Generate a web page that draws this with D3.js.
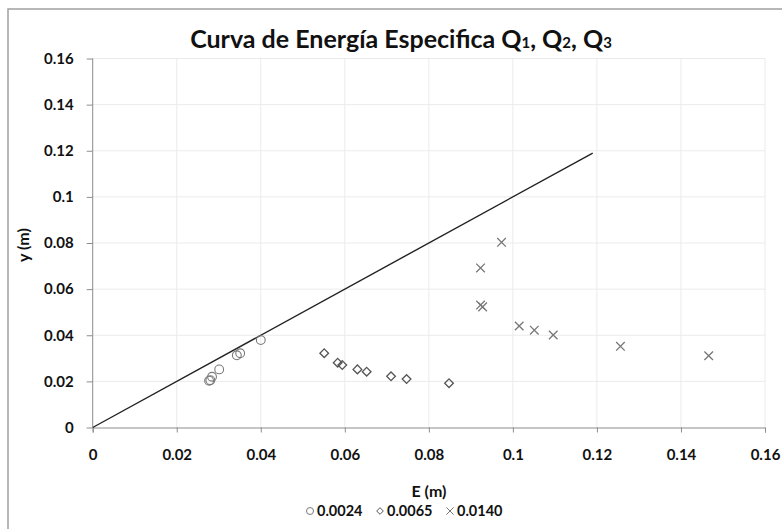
<!DOCTYPE html>
<html lang="es">
<head>
<meta charset="utf-8">
<title>Curva de Energía Especifica</title>
<script src="https://cdn.jsdelivr.net/npm/d3@7"></script>
<style>
  body { margin: 0; background: #fff; }
  text { font-family: Lato, "Open Sans", sans-serif; font-weight: bold; fill: #111; }
  .grid line { stroke: #ebebeb; }
  .axis path, .axis line { stroke: #8c8c8c; }
</style>
</head>
<body>
<script>
// data (E in m, y in m)
var q1E = [0.0277, 0.0280, 0.0284, 0.0301, 0.0343, 0.0351, 0.0400];
var q1Y = [0.0203, 0.0205, 0.0220, 0.0252, 0.0313, 0.0322, 0.0379];
var q2E = [0.0551, 0.0583, 0.0594, 0.0630, 0.0652, 0.0710, 0.0747, 0.0848];
var q2Y = [0.0322, 0.0281, 0.0271, 0.0252, 0.0242, 0.0222, 0.0210, 0.0192];
var q3E = [0.0973, 0.0923, 0.0923, 0.0928, 0.1015, 0.1051, 0.1096, 0.1256, 0.1466];
var q3Y = [0.0803, 0.0692, 0.0531, 0.0523, 0.0440, 0.0422, 0.0401, 0.0352, 0.0311];
var lineE = [0, 0.119];
var lineY = [0, 0.119];
var seriesNames = ["0.0024", "0.0065", "0.0140"];
var ticks = [0, 0.02, 0.04, 0.06, 0.08, 0.1, 0.12, 0.14, 0.16];

(function(){
var w = 782, h = 529;
var pl = 92.7, pr = 765, pt = 58.5, pb = 427.5;

var svg = d3.select("body").append("svg").attr("width", w).attr("height", h);

// outer chart border
svg.append("rect").attr("x", 8).attr("y", 9).attr("width", w + 10).attr("height", h + 10)
  .attr("fill", "none").attr("stroke", "#a0a0a0").attr("stroke-width", 1.5);

var x = d3.scaleLinear().domain([0, 0.16]).range([pl, pr]);
var y = d3.scaleLinear().domain([0, 0.16]).range([pb, pt]);

// gridlines
var grid = svg.append("g").attr("class", "grid");
grid.selectAll(".gx").data(ticks.slice(1)).enter().append("line")
  .attr("x1", function(d){ return x(d); }).attr("x2", function(d){ return x(d); })
  .attr("y1", pt).attr("y2", pb);
grid.selectAll(".gy").data(ticks.slice(1)).enter().append("line")
  .attr("y1", function(d){ return y(d); }).attr("y2", function(d){ return y(d); })
  .attr("x1", pl).attr("x2", pr);

var fmt = function(d){ return d === 0 ? "0" : String(+d.toFixed(2)); };

var xAxis = svg.append("g").attr("class", "axis")
  .attr("transform", "translate(0," + pb + ")")
  .call(d3.axisBottom(x).tickValues(ticks).tickFormat(fmt).tickSizeOuter(0).tickSize(5).tickPadding(17));
xAxis.selectAll("text").style("font-size", "15px").attr("fill", "#111");

var yAxis = svg.append("g").attr("class", "axis")
  .attr("transform", "translate(" + pl + ",0)")
  .call(d3.axisLeft(y).tickValues(ticks).tickFormat(fmt).tickSizeOuter(0).tickSize(6).tickPadding(13));
yAxis.selectAll("text").style("font-size", "15px").attr("fill", "#111");
yAxis.select(".domain").remove();
yAxis.append("line").attr("x1", 0).attr("x2", 0).attr("y1", pt).attr("y2", pb).attr("stroke", "#8c8c8c");

// straight line y = E
svg.append("path")
  .datum(lineE.map(function(e, i){ return [e, lineY[i]]; }))
  .attr("fill", "none").attr("stroke", "#222").attr("stroke-width", 1.4)
  .attr("d", d3.line().x(function(d){ return x(d[0]); }).y(function(d){ return y(d[1]); }));

function pts(E, Y){ return E.map(function(e, i){ return [e, Y[i]]; }); }

// series markers
svg.append("g").selectAll("circle").data(pts(q1E, q1Y)).enter().append("circle")
  .attr("cx", function(d){ return x(d[0]); }).attr("cy", function(d){ return y(d[1]); })
  .attr("r", 4.4).attr("fill", "none").attr("stroke", "#7a7a7a").attr("stroke-width", 1.1);

var diamond = d3.symbol().type(d3.symbolDiamond2).size(48);
svg.append("g").selectAll("path").data(pts(q2E, q2Y)).enter().append("path")
  .attr("transform", function(d){ return "translate(" + x(d[0]) + "," + y(d[1]) + ")"; })
  .attr("d", diamond).attr("fill", "none").attr("stroke", "#555").attr("stroke-width", 1.3);

var cross = d3.symbol().type(d3.symbolX).size(50);
svg.append("g").selectAll("path").data(pts(q3E, q3Y)).enter().append("path")
  .attr("transform", function(d){ return "translate(" + x(d[0]) + "," + y(d[1]) + ")"; })
  .attr("d", cross).attr("fill", "none").attr("stroke", "#777").attr("stroke-width", 1.3);

// title
var title = svg.append("text").attr("x", 401).attr("y", 48).attr("text-anchor", "middle")
  .style("font-size", "25px");
title.append("tspan").text("Curva de Energía Especifica Q");
title.append("tspan").text("1").style("font-size", "15px");
title.append("tspan").text(", Q");
title.append("tspan").text("2").style("font-size", "15px");
title.append("tspan").text(", Q");
title.append("tspan").text("3").style("font-size", "15px");

// axis titles
svg.append("text").attr("x", 429).attr("y", 497).attr("text-anchor", "middle")
  .style("font-size", "16px").text("E (m)");
svg.append("text").attr("transform", "translate(29,245) rotate(-90)").attr("text-anchor", "middle")
  .style("font-size", "16px").text("y (m)");

// legend
var legX = [310, 380, 450];
var leg = svg.append("g");
leg.append("circle").attr("cx", legX[0]).attr("cy", 511).attr("r", 3.5)
  .attr("fill", "none").attr("stroke", "#7a7a7a");
leg.append("path").attr("transform", "translate(" + legX[1] + ",511)")
  .attr("d", d3.symbol().type(d3.symbolDiamond2).size(28)).attr("fill", "none").attr("stroke", "#555");
leg.append("path").attr("transform", "translate(" + legX[2] + ",511)")
  .attr("d", d3.symbol().type(d3.symbolX).size(36)).attr("fill", "none").attr("stroke", "#777");
leg.selectAll(".lt").data(seriesNames).enter().append("text")
  .attr("x", function(d, i){ return legX[i] + 7; }).attr("y", 516)
  .style("font-size", "14.5px").text(function(d){ return d; });
})();
</script>
</body>
</html>
